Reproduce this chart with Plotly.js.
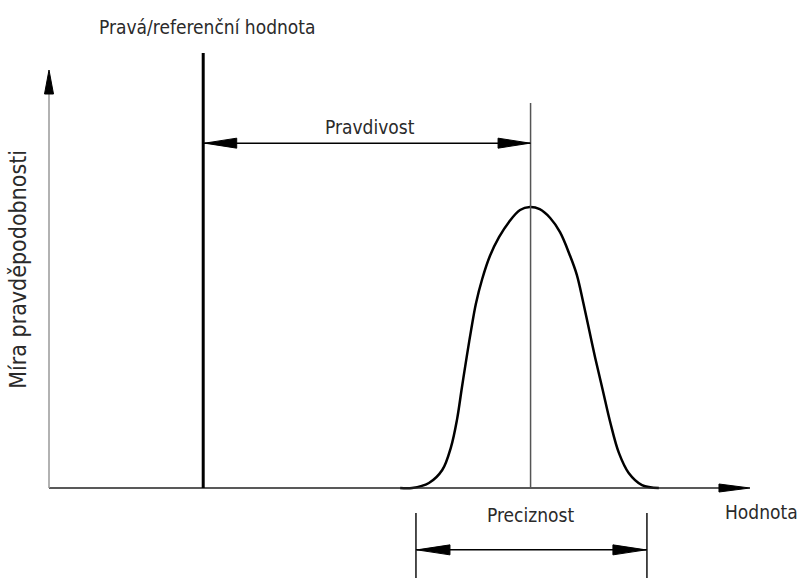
<!DOCTYPE html>
<html>
<head>
<meta charset="utf-8">
<script src="https://cdn.plot.ly/plotly-3.0.1.min.js"></script>
<style>html,body{margin:0;padding:0;background:#fff}#chart{width:801px;height:578px}</style>
</head>
<body>
<div id="chart"></div>
<script>
// Data (Hodnota in arbitrary units 0-100, probability 0-1)
const curveX = [50.1, 51.8, 54.2, 56.1, 57.35, 58.2, 58.9, 59.6, 60.2, 60.9, 61.8, 62.9, 64.2, 65.6, 67.2, 68.6, 70.0, 71.5, 72.9, 74.3, 75.3, 76.2, 77.1, 77.9, 79.0, 80.1, 81.3, 82.7, 84.6, 87.0];
const curveY = [0, 0, 0.012, 0.043, 0.098, 0.163, 0.240, 0.315, 0.376, 0.441, 0.500, 0.555, 0.600, 0.636, 0.665, 0.672, 0.667, 0.646, 0.612, 0.557, 0.510, 0.445, 0.375, 0.313, 0.234, 0.155, 0.084, 0.036, 0.007, 0];
const referenceValue = 22.0;
const meanValue = 68.7;
const precisionBounds = [52.35, 85.3];
const axisMax = {x: 100, y: 1.0};
const labels = {
  reference: 'Pravá/referenční hodnota',
  trueness: 'Pravdivost',
  precision: 'Preciznost',
  xTitle: 'Hodnota',
  yTitle: 'Míra pravděpodobnosti'
};

const W = 801, H = 578;
const xr = [-6.99, 107.28], yr = [-0.2153, 1.1675];
const kx = W / (xr[1] - xr[0]), ky = H / (yr[1] - yr[0]);
const px2x = p => p / kx, px2y = p => p / ky;

function line(x0, y0, x1, y1, color, width) {
  return {type: 'line', xref: 'x', yref: 'y', x0, y0, x1, y1, line: {color, width}};
}
function head(tx, ty, dir, len, half, color) {
  let pts;
  const L = len, Hh = half;
  if (dir === 'r') pts = [[tx, ty], [tx - px2x(L), ty + px2y(Hh)], [tx - px2x(L), ty - px2y(Hh)]];
  if (dir === 'l') pts = [[tx, ty], [tx + px2x(L), ty + px2y(Hh)], [tx + px2x(L), ty - px2y(Hh)]];
  if (dir === 'u') pts = [[tx, ty], [tx - px2x(Hh), ty - px2y(L)], [tx + px2x(Hh), ty - px2y(L)]];
  const path = 'M' + pts.map(p => p[0] + ',' + p[1]).join(' L') + ' Z';
  return {type: 'path', xref: 'x', yref: 'y', path, fillcolor: color, line: {color, width: 1}};
}

const yTrue = 0.825, yPrec = -0.148;
const shapes = [
  // axes
  line(0, 0, axisMax.x - px2x(10), 0, '#222', 1.3),
  line(0, 0, 0, axisMax.y - px2y(10), '#999', 1.5),
  head(axisMax.x, 0, 'r', 31, 4, '#000'),
  head(0, axisMax.y, 'u', 24, 4.5, '#000'),
  // reference and mean
  line(referenceValue, 0, referenceValue, 1.041, '#000', 3),
  line(meanValue, 0, meanValue, 0.921, '#555', 1.5),
  // trueness arrow
  line(referenceValue, yTrue, meanValue, yTrue, '#000', 1.5),
  head(referenceValue + px2x(1.5), yTrue, 'l', 32, 5, '#000'),
  head(meanValue - px2x(0.5), yTrue, 'r', 32, 5, '#000'),
  // precision
  line(precisionBounds[0], -0.060, precisionBounds[0], yr[0], '#111', 1.5),
  line(precisionBounds[1], -0.060, precisionBounds[1], yr[0], '#111', 1.5),
  line(precisionBounds[0], yPrec, precisionBounds[1], yPrec, '#000', 1.5),
  head(precisionBounds[0] + px2x(1), yPrec, 'l', 33, 5, '#000'),
  head(precisionBounds[1] - px2x(1), yPrec, 'r', 33, 5, '#000')
];

const fam = '"Liberation Sans Narrow", "Arial Narrow", "DejaVu Sans Condensed", sans-serif';
const font = {family: fam, size: 19, color: '#2a2a2a'};
const ann = (text, x, y, extra) => Object.assign({text, x, y, xref: 'x', yref: 'y', showarrow: false, font, xanchor: 'center', yanchor: 'middle'}, extra || {});
const annotations = [
  ann(labels.reference, 22.6, 1.103),
  ann(labels.trueness, 45.8, 0.864),
  ann(labels.precision, meanValue, -0.065),
  ann(labels.xTitle, 101.7, -0.057),
  ann(labels.yTitle, -4.42, 0.522, {textangle: -90, font: {family: fam, size: 23, color: '#2a2a2a'}})
];

const trace = {
  x: curveX, y: curveY, type: 'scatter', mode: 'lines',
  line: {color: '#000', width: 2.5, shape: 'spline', smoothing: 1.0},
  hoverinfo: 'skip', showlegend: false
};

const layout = {
  width: W, height: H,
  margin: {l: 0, r: 0, t: 0, b: 0, pad: 0},
  paper_bgcolor: '#fff', plot_bgcolor: '#fff',
  xaxis: {range: xr, visible: false, fixedrange: true},
  yaxis: {range: yr, visible: false, fixedrange: true},
  shapes, annotations, showlegend: false
};
Plotly.newPlot('chart', [trace], layout, {displayModeBar: false, staticPlot: true});
</script>
</body>
</html>
